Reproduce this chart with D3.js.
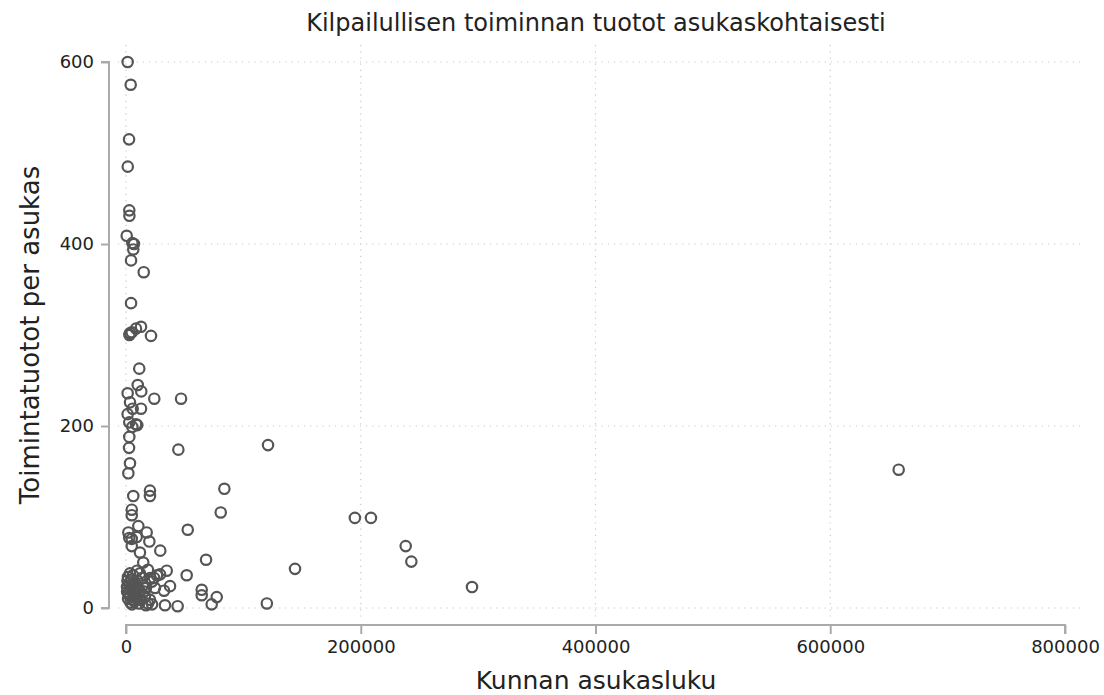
<!DOCTYPE html>
<html>
<head>
<meta charset="utf-8">
<script src="https://cdn.jsdelivr.net/npm/d3@7"></script>
<style>
  body { margin: 0; background: #fff; }
  text { font-family: "DejaVu Sans", sans-serif; fill: #222; }
</style>
</head>
<body>
<svg id="chart" width="1104" height="695"></svg>
<script>
var svg = d3.select("#chart"),
    width = +svg.attr("width"),
    height = +svg.attr("height");

// population of municipality
var population = [
  1400, 4000, 2600, 1500, 2800, 2900, 600, 5400, 6800, 6200, 4300, 15100, 4300,
  3400, 4900, 8500, 12800, 21300, 2900, 11300, 10000, 13000, 1400, 24100, 46900,
  3400, 5700, 12800, 1400, 2800, 8500, 9600, 5400, 2800, 2600, 44600, 121000,
  3400, 2000, 6200, 20400, 20400, 83800, 4900, 4900, 80700, 195000, 208700,
  10500, 2000, 17600, 2800, 4900, 9100, 52600, 19900, 4900, 29200, 11900,
  238300, 243100, 14700, 68200, 144000, 294800, 658300, 34700, 51700, 29000,
  37500, 32400, 64500, 64500, 77300, 73000, 120000, 33200, 44000,
  6000, 11900, 18700, 23900, 9400, 3400, 1700, 4300, 13600, 22200, 7700, 14500,
  24700, 10200, 900, 3400, 11900, 900, 16200, 3400, 8500, 20400, 6000, 18700,
  11100, 22200, 17000, 2600, 6800, 17000, 5100, 26400, 20400,
  1200, 4600, 8000, 2200, 5600, 9800, 15500, 12400, 7200, 1800, 3800, 10600
];
// revenue per inhabitant
var revenue = [
  600, 575, 515, 485, 437, 431, 409, 401, 400, 394, 382, 369, 335,
  302, 303, 307, 309, 299, 300, 263, 245, 238, 236, 230, 230,
  226, 219, 219, 213, 204, 202, 201, 199, 188, 176, 174, 179,
  159, 148, 123, 129, 123, 131, 108, 102, 105, 99, 99,
  90, 83, 83, 77, 76, 78, 86, 73, 68, 63, 61,
  68, 51, 50, 53, 43, 23, 152, 41, 36, 37,
  24, 19, 20, 14, 12, 4, 5, 3, 2,
  36, 38, 42, 33, 41, 38, 34, 31, 33, 29, 27, 25,
  22, 22, 23, 20, 18, 18, 13, 13, 11, 9, 9, 5,
  5, 4, 3, 27, 18, 22, 4, 36, 33,
  30, 26, 16, 15, 21, 30, 18, 9, 7, 10, 6, 14
];
var xTicks = [0, 200000, 400000, 600000, 800000];
var yTicks = [0, 200, 400, 600];

var data = population.map(function(p, i) { return {x: p, y: revenue[i]}; });

var x = d3.scaleLinear().domain([0, 800000]).range([126, 1065]);
var y = d3.scaleLinear().domain([0, 600]).range([608, 62]);

// grid
svg.append("g").selectAll("line")
  .data(yTicks).enter().append("line")
  .attr("x1", 118).attr("x2", 1083)
  .attr("y1", function(d) { return y(d); })
  .attr("y2", function(d) { return y(d); })
  .attr("stroke", "#c8c8c8").attr("stroke-width", 1.2)
  .attr("stroke-dasharray", "1.2,5");

svg.append("g").selectAll("line")
  .data(xTicks.slice(0, 4)).enter().append("line")
  .attr("y1", 45).attr("y2", 620)
  .attr("x1", function(d) { return x(d); })
  .attr("x2", function(d) { return x(d); })
  .attr("stroke", "#c8c8c8").attr("stroke-width", 1.2)
  .attr("stroke-dasharray", "1.2,5");

// axes
var xAxis = d3.axisBottom(x).tickValues(xTicks).tickSize(9).tickPadding(6)
  .tickFormat(d3.format("d"));
var gx = svg.append("g").attr("transform", "translate(0,625)").call(xAxis);

var yAxis = d3.axisLeft(y).tickValues(yTicks).tickSize(8).tickPadding(7)
  .tickFormat(d3.format("d"));
var gy = svg.append("g").attr("transform", "translate(109,0)").call(yAxis);

[gx, gy].forEach(function(g) {
  g.select(".domain").attr("stroke", "#aaa").attr("stroke-width", 2);
  g.selectAll(".tick line").attr("stroke", "#aaa").attr("stroke-width", 2);
  g.selectAll(".tick text").attr("font-size", 18).attr("fill", "#222")
    .attr("font-family", "DejaVu Sans, sans-serif");
});
gx.select(".domain").attr("d", "M126,9V0H1065V9");
gy.select(".domain").attr("d", "M-8,62H0V608H-8");

// points
svg.append("g").selectAll("circle")
  .data(data).enter().append("circle")
  .attr("cx", function(d) { return x(d.x); })
  .attr("cy", function(d) { return y(d.y); })
  .attr("r", 5.2)
  .attr("fill", "none")
  .attr("stroke", "#555")
  .attr("stroke-width", 2.2);

// titles
svg.append("text")
  .attr("x", 596).attr("y", 31)
  .attr("text-anchor", "middle").attr("font-size", 24)
  .text("Kilpailullisen toiminnan tuotot asukaskohtaisesti");

svg.append("text")
  .attr("x", 596).attr("y", 689)
  .attr("text-anchor", "middle").attr("font-size", 25)
  .text("Kunnan asukasluku");

svg.append("text")
  .attr("transform", "translate(39,335) rotate(-90)")
  .attr("text-anchor", "middle").attr("font-size", 26)
  .text("Toimintatuotot per asukas");
</script>
</body>
</html>
